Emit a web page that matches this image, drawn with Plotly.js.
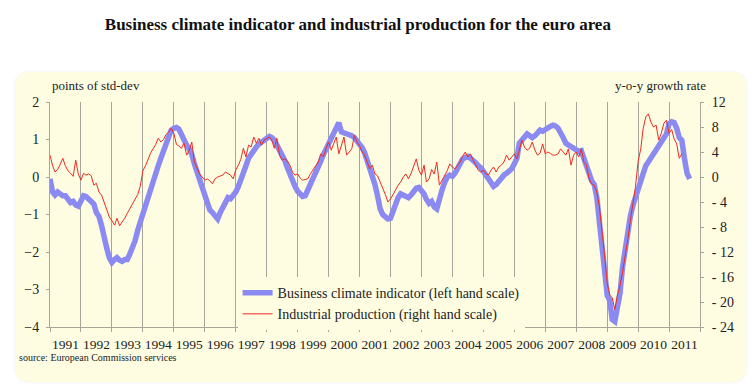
<!DOCTYPE html>
<html>
<head>
<meta charset="utf-8">
<script src="https://cdn.plot.ly/plotly-3.0.1.min.js"></script>
<style>
  html, body { margin: 0; padding: 0; background: #ffffff; }
  #wrap { position: relative; width: 755px; height: 388px; }
  #panel { position: absolute; left: 15px; top: 72px; width: 731px; height: 310px;
           background: #fefde2; border-radius: 14px; box-shadow: 0 0 3px rgba(200,200,170,0.35); }
  #chart { position: absolute; left: 0; top: 0; width: 755px; height: 388px; }
</style>
</head>
<body>
<div id="wrap"><div id="panel"></div><div id="chart"></div></div>
<script>
// ---- data (monthly, starting January 1991) ----
const startYear = 1991;

// Business climate indicator, points of std-dev (left scale), Jan 1991 - Sep 2011
const bci1991_1995 = [
  -0.05, -0.40, -0.48, -0.40, -0.45, -0.50, -0.50, -0.60, -0.68, -0.65, -0.75, -0.78,
  -0.60, -0.50, -0.52, -0.60, -0.68, -0.72, -0.95, -1.05, -1.30, -1.65, -1.90, -2.15,
  -2.28, -2.20, -2.15, -2.22, -2.25, -2.20, -2.20, -2.05, -1.90, -1.70, -1.42, -1.20,
  -0.95, -0.75, -0.50, -0.25, -0.05, 0.15, 0.30, 0.50, 0.70, 0.90, 1.10, 1.25,
  1.30, 1.32, 1.28, 1.12, 0.98, 0.85, 0.75, 0.60, 0.35, 0.15, -0.05, -0.30
];
const bci1996_2000 = [
  -0.55, -0.75, -0.88, -0.95, -1.05, -1.12, -0.95, -0.80, -0.65, -0.55, -0.58, -0.50,
  -0.40, -0.25, -0.10, 0.10, 0.30, 0.50, 0.62, 0.70, 0.80, 0.88, 0.94, 0.98,
  1.02, 1.08, 1.05, 0.98, 0.85, 0.72, 0.60, 0.45, 0.25, 0.05, -0.10, -0.25,
  -0.38, -0.45, -0.52, -0.50, -0.35, -0.22, -0.05, 0.08, 0.20, 0.42, 0.60, 0.75,
  0.90, 1.05, 1.18, 1.30, 1.45, 1.20, 1.18, 1.15, 1.12, 1.10, 1.05, 0.97
];
const bci2001_2005 = [
  0.88, 0.78, 0.65, 0.45, 0.28, 0.05, -0.20, -0.50, -0.85, -1.00, -1.08, -1.12,
  -1.10, -0.90, -0.70, -0.55, -0.45, -0.48, -0.52, -0.55, -0.48, -0.38, -0.30, -0.28,
  -0.35, -0.45, -0.60, -0.70, -0.65, -0.80, -0.85, -0.55, -0.35, -0.15, 0.00, 0.05,
  0.02, 0.10, 0.25, 0.40, 0.48, 0.52, 0.55, 0.50, 0.45, 0.38, 0.30, 0.25,
  0.15, 0.05, -0.08, -0.20, -0.25, -0.20, -0.10, -0.02, 0.05, 0.10, 0.15, 0.22
];
const bci2006_2011 = [
  0.35, 0.50, 0.90, 1.00, 1.10, 1.15, 1.10, 1.05, 1.10, 1.20, 1.25, 1.22,
  1.28, 1.32, 1.35, 1.38, 1.36, 1.30, 1.20, 1.05, 0.90, 0.85, 0.80, 0.75,
  0.70, 0.68, 0.70, 0.50, 0.20, 0.05, -0.10, -0.20, -0.55, -1.20, -1.90, -2.80,
  -3.15, -3.30, -3.80, -3.85, -3.50, -3.10, -2.40, -1.90, -1.50, -1.05, -0.75, -0.55,
  -0.35, -0.15, 0.15, 0.30, 0.40, 0.50, 0.60, 0.72, 0.80, 0.90, 1.00, 1.15,
  1.42, 1.47, 1.45, 1.30, 1.05, 0.98, 0.50, 0.10, -0.05
];

// Industrial production, y-o-y growth rate % (right scale), Jan 1991 - Jun 2011
const ip1991_1995 = [
  3.5, 1.8, 0.8, 1.2, 2.0, 3.0, 1.8, 1.0, 0.6, 0.1, 2.7, 0.5,
  -0.5, 0.6, 0.3, 0.5, 0.2, -1.3, -1.0, -2.4, -2.9, -4.0, -5.1, -6.4,
  -7.0, -7.7, -6.6, -7.8, -7.2, -6.6, -5.8, -5.0, -4.3, -3.5, -2.8, -1.5,
  1.0, 1.8, 2.8, 3.8, 4.5, 5.2, 6.2, 5.6, 6.0, 6.8, 7.2, 7.8,
  7.0, 5.2, 5.0, 4.6, 5.4, 3.5, 4.2, 5.6, 2.4, 1.3, 0.5, 0.0
];
const ip1996_2000 = [
  -0.5, -0.3, -0.6, -1.1, -0.3, 0.0, 0.1, 0.3, 0.8, 0.6, 0.3, -0.3,
  1.1, 1.9, 2.8, 4.6, 3.2, 5.1, 4.8, 6.4, 5.4, 6.2, 5.1, 5.9,
  6.2, 6.4, 5.9, 4.6, 6.2, 3.5, 2.7, 2.9, 2.6, 1.9, 0.8, 0.3,
  0.5, -0.2, -0.5, -0.4, -0.3, 0.5, 1.1, 1.8, 2.4, 3.7, 3.2, 4.5,
  5.6, 4.3, 5.4, 6.4, 3.7, 5.0, 6.4, 3.5, 4.0, 4.5, 6.7, 5.6
];
const ip2001_2005 = [
  5.0, 4.0, 3.5, 2.4, 1.3, 1.9, 0.5, 0.2, -0.8, -1.6, -2.8, -4.0,
  -3.5, -2.8, -2.0, -1.3, -0.8, 0.0, 0.5, -0.3, 0.6, 1.6, 2.9, 1.1,
  0.3, 1.9, -0.8, -0.3, 1.2, 0.5, 2.4, -1.3, -0.5, 0.3, 1.0, 2.1,
  1.6, 1.3, 1.8, 2.4, 3.3, 4.0, 3.2, 3.7, 2.7, 1.8, 1.1, 0.8,
  1.1, 0.5, 0.3, 1.1, 1.6, 0.8, 1.6, 1.9, 2.4, 3.5, 2.7, 3.2
];
const ip2006_2011 = [
  3.7, 2.9, 4.3, 5.9, 4.8, 4.3, 4.6, 5.6, 4.3, 3.5, 3.8, 5.3,
  3.7, 4.0, 3.8, 3.5, 3.5, 3.7, 4.5, 3.9, 3.5, 4.5, 1.9, 3.5,
  4.0, 3.2, 4.5, 2.4, 1.9, -0.3, -1.1, -1.3, -2.5, -4.8, -8.5, -12.5,
  -17.0, -18.9, -19.3, -21.2, -18.9, -17.4, -15.2, -12.8, -10.0, -7.0, -4.0, -1.5,
  2.5, 4.5, 7.7, 9.6, 10.1, 8.8, 8.0, 8.3, 5.9, 7.0, 8.6, 9.1,
  7.0, 7.6, 6.1, 5.3, 3.0, 3.7
];

const bci = [].concat(bci1991_1995, bci1996_2000, bci2001_2005, bci2006_2011);
const ip  = [].concat(ip1991_1995, ip1996_2000, ip2001_2005, ip2006_2011);

const leftTicks  = [-4, -3, -2, -1, 0, 1, 2];
const rightTicks = [-24, -20, -16, -12, -8, -4, 0, 4, 8, 12];
const rightTickText = ['- 24', '- 20', '- 16', '- 12', '- 8', '- 4', '0', '4', '8', '12'];

const seriesNames = ['Business climate indicator (left hand scale)',
                     'Industrial production (right hand scale)'];

function monthDates(n) {
  const out = [];
  for (let i = 0; i < n; i++) {
    const y = startYear + Math.floor(i / 12);
    const m = (i % 12) + 1;
    out.push(y + '-' + String(m).padStart(2, '0') + '-01');
  }
  return out;
}

const serif = 'Liberation Serif, Times New Roman, serif';
const axisGray = '#a5a59c';
const panelColor = '#fefde2';

const traces = [
  {
    x: monthDates(bci.length), y: bci, type: 'scatter', mode: 'lines',
    name: seriesNames[0], yaxis: 'y',
    line: { color: '#8a8af2', width: 5.5 }
  },
  {
    x: monthDates(ip.length), y: ip, type: 'scatter', mode: 'lines',
    name: seriesNames[1], yaxis: 'y2',
    line: { color: '#ee2a24', width: 1 }
  }
];

const layout = {
  width: 755, height: 388,
  margin: { l: 50, r: 55, t: 102, b: 61 },
  paper_bgcolor: 'rgba(0,0,0,0)',
  plot_bgcolor: 'rgba(0,0,0,0)',
  font: { family: serif, size: 13, color: '#222' },
  showlegend: true,
  title: {
    text: '<b>Business climate indicator and industrial production for the euro area</b>',
    font: { family: serif, size: 17, color: '#111' },
    x: 0.474, xref: 'container', xanchor: 'center',
    y: 0.937, yref: 'container', yanchor: 'middle'
  },
  xaxis: {
    type: 'date',
    range: ['1991-01-01', '2012-01-01'],
    tick0: '1991-01-01', dtick: 'M12',
    tickformat: '%Y', ticklabelmode: 'period',
    ticks: 'outside', ticklen: 4, tickcolor: axisGray,
    showgrid: true, gridcolor: axisGray, gridwidth: 1,
    showline: true, linecolor: axisGray, linewidth: 1,
    zeroline: false,
    tickfont: { family: serif, size: 13.5, color: '#222' },
    ticklabelstandoff: 1
  },
  yaxis: {
    range: [-4, 2], tickvals: leftTicks,
    ticks: 'outside', ticklen: 3, tickcolor: axisGray,
    showline: true, linecolor: axisGray, linewidth: 1,
    showgrid: false, zeroline: false,
    tickfont: { family: serif, size: 14, color: '#222' },
    ticklabelstandoff: 4
  },
  yaxis2: {
    range: [-24, 12], tickvals: rightTicks, ticktext: rightTickText,
    overlaying: 'y', side: 'right',
    ticks: 'outside', ticklen: 3, tickcolor: axisGray,
    showline: true, linecolor: axisGray, linewidth: 1,
    showgrid: false, zeroline: false,
    tickfont: { family: serif, size: 14, color: '#222' },
    ticklabelstandoff: 5
  },
  legend: {
    x: 0.2886, xanchor: 'left', y: 0.222, yanchor: 'top',
    bgcolor: panelColor, borderwidth: 0,
    font: { family: serif, size: 14, color: '#222' },
    tracegroupgap: 0
  },
  annotations: [
    { text: 'points of std-dev', xref: 'paper', yref: 'paper', x: 0.0, y: 1.075,
      xanchor: 'left', yanchor: 'middle', showarrow: false,
      font: { family: serif, size: 13, color: '#222' } },
    { text: 'y-o-y growth rate', xref: 'paper', yref: 'paper', x: 1.013, y: 1.075,
      xanchor: 'right', yanchor: 'middle', showarrow: false,
      font: { family: serif, size: 13, color: '#222' } },
    { text: 'source: European Commission services', xref: 'paper', yref: 'paper',
      x: -0.051, y: -0.136, xanchor: 'left', yanchor: 'middle', showarrow: false,
      font: { family: serif, size: 10, color: '#222' } }
  ]
};

Plotly.newPlot('chart', traces, layout, { staticPlot: true, displayModeBar: false });
</script>
</body>
</html>
